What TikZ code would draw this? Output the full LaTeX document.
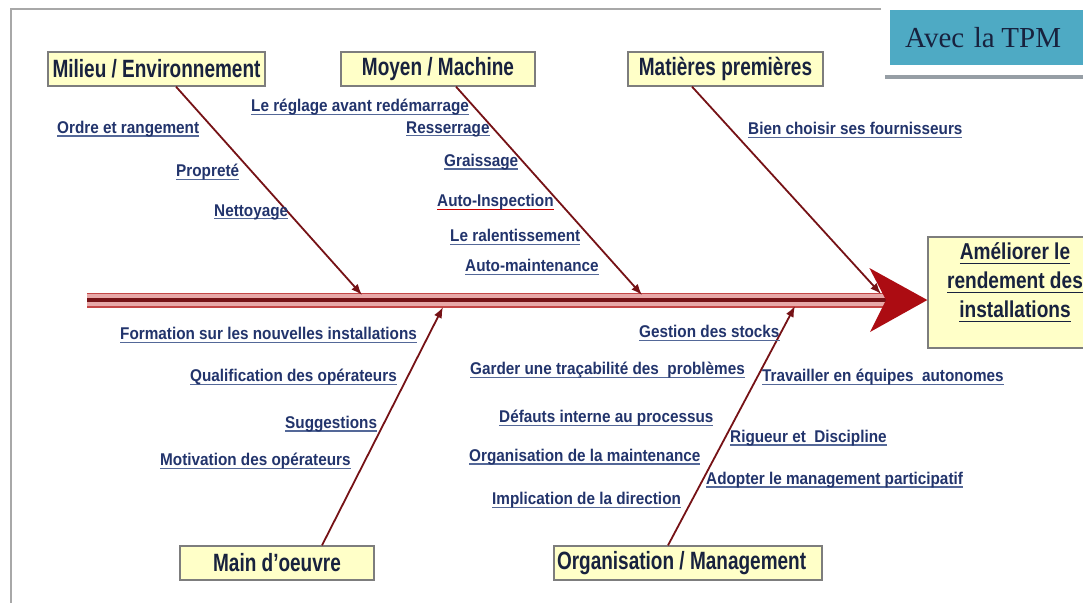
\documentclass[tikz,border=0pt]{standalone}
\usepackage{fontspec}
\setmainfont{Liberation Serif}
\newfontfamily\idfont[FakeStretch=0.9]{Liberation Sans}
\newfontfamily\catfont[FakeStretch=0.76]{Liberation Sans}
\newfontfamily\effont[FakeStretch=0.83]{Liberation Sans}
\usetikzlibrary{arrows,arrows.meta,positioning}
\definecolor{bordeaux}{RGB}{118,18,22}
\definecolor{rougevif}{RGB}{172,12,18}
\definecolor{rosepale}{RGB}{232,168,168}
\definecolor{bordepine}{RGB}{196,70,70}
\definecolor{bleu}{RGB}{34,52,108}
\definecolor{soulbleu}{RGB}{84,104,152}
\definecolor{encre}{RGB}{24,34,62}
\definecolor{jaune}{RGB}{255,255,200}
\definecolor{grisbord}{RGB}{125,125,125}
\definecolor{griscadre}{RGB}{168,168,168}
\definecolor{sarcelle}{RGB}{78,170,196}
\definecolor{ombre}{RGB}{150,158,165}
\newcommand{\souligne}[2][soulbleu]{\leavevmode\setbox0\hbox{#2}\rlap{\textcolor{#1}{\rule[-.2em]{\wd0}{.075em}}}\box0}
\tikzstyle{cause}=[
	rectangle,
	draw=grisbord,
	line width=1.3,
	fill=jaune,
	text=encre,
	font=\catfont\bfseries\fontsize{25}{28}\selectfont,
	minimum height=34,
	inner sep=0]
\tikzstyle{idee}=[
	anchor=west,
	inner sep=0,
	text=bleu,
	font=\idfont\bfseries\fontsize{17}{19}\selectfont]
\tikzstyle{effet}=[
	rectangle,
	draw=grisbord,
	line width=1.3,
	fill=jaune,
	minimum width=174,
	minimum height=111]
\tikzstyle{effettexte}=[
	align=center,
	inner sep=0,
	text=encre,
	font=\effont\bfseries\fontsize{23}{29}\selectfont]
\tikzstyle{arete}=[
	->,
	draw=bordeaux,
	line width=1.8]
\tikzstyle{epine}=[
	draw=bordeaux,
	line width=3.5,
	preaction={draw=bordepine,line width=15},
	preaction={draw=rosepale,line width=12}]

\begin{document}
\begin{tikzpicture}[x=1pt,y=-1pt,>={Latex[length=11pt,width=8.5pt]}]
	\useasboundingbox (0,0) rectangle (1083,603);
	\fill[white] (0,0) rectangle (1083,603);
	\draw[griscadre,line width=2.5] (881,9) -- (11,9) -- (11,603);
	\node[fill=sarcelle,anchor=west,minimum height=55,text width=180,inner xsep=15,align=left,text=encre,font=\fontsize{29}{34}\selectfont] (tpm) at (890,37.5) {Avec la\hspace{-3pt} TPM};
	\draw[ombre,line width=3.5] ([shift={(-5,12)}]tpm.south west) -- ([shift={(0,12)}]tpm.south east);
	\node[cause,minimum width=217]	(milieu)	at (156.5,69)	{Milieu / Environnement};
	\node[cause,minimum width=194]	(moyen)		at (438,69)		{Moyen / Machine};
	\node[cause,minimum width=195]	(matieres)	at (725.5,69)	{Matières premières};
	\node[cause,minimum width=194]	(main)		at (277,563)	{Main d’oeuvre};
	\node[cause,minimum width=268,text width=262,inner xsep=3,align=flush left]	(orga)	at (688,563)	{Organisation / Management};
	\node[effet]	(effet)	at (1015,292.5)	{};
	\node[effettexte]	(but)	at ([yshift=10]effet.center)	{\souligne[encre]{Améliorer le}\\\souligne[encre]{rendement des}\\\souligne[encre]{installations}};
	\coordinate (queue) at (87,300);
	\coordinate (cou) at (886,300);
	\draw[epine] (queue) -- (cou);
	\fill[rougevif] (effet.west |- cou) -- ++(-58,-32) -- (cou) -- ++(-16,32) -- cycle;
	\coordinate (bout1) at (362,295);
	\coordinate (bout2) at (642,295);
	\coordinate (bout3) at (881,294);
	\coordinate (bout4) at (443,307);
	\coordinate (bout5) at (795,306);
	\draw[arete] ([xshift=19.5]milieu.south) -- (bout1);
	\draw[arete] ([xshift=18]moyen.south) -- (bout2);
	\draw[arete] ([xshift=-33.5]matieres.south) -- (bout3);
	\draw[arete] ([xshift=45]main.north) -- (bout4);
	\draw[arete] ([xshift=-20]orga.north) -- (bout5);
	\node[idee]	(ordre)		at (57,129)		{\souligne{Ordre et rangement}};
	\node[idee]	(proprete)	at (176,172)	{\souligne{Propreté}};
	\node[idee]	(nettoyage)	at (214,212)	{\souligne{Nettoyage}};
	\node[idee]	(reglage)	at (251,107)	{\souligne{Le réglage avant redémarrage}};
	\node[idee]	(resserrage)	at (406,129)	{\souligne{Resserrage}};
	\node[idee]	(graissage)	at (444,162)	{\souligne{Graissage}};
	\node[idee]	(inspection)	at (437,202)	{\souligne[red!80!black]{Auto-Inspection}};
	\node[idee]	(ralenti)	at (450,237)	{\souligne{Le ralentissement}};
	\node[idee]	(automaint)	at (465,267)	{\souligne{Auto-maintenance}};
	\node[idee]	(fournisseurs)	at (748,130)	{\souligne{Bien choisir ses fournisseurs}};
	\node[idee]	(formation)	at (120,335)	{\souligne{Formation sur les nouvelles installations}};
	\node[idee]	(qualification)	at (190,377)	{\souligne{Qualification des opérateurs}};
	\node[idee]	(suggestions)	at (285,424)	{\souligne{Suggestions}};
	\node[idee]	(motivation)	at (160,461)	{\souligne{Motivation des opérateurs}};
	\node[idee]	(stocks)	at (639,333)	{\souligne{Gestion des stocks}};
	\node[idee]	(tracabilite)	at (470,370)	{\souligne{Garder une traçabilité des~ problèmes}};
	\node[idee]	(defauts)	at (499,418)	{\souligne{Défauts interne au processus}};
	\node[idee]	(maintenance)	at (469,457)	{\souligne{Organisation de la maintenance}};
	\node[idee]	(direction)	at (492,500)	{\souligne{Implication de la direction}};
	\node[idee]	(autonomes)	at (762,377)	{\souligne{Travailler en équipes~ autonomes}};
	\node[idee]	(rigueur)	at (730,438)	{\souligne{Rigueur et~ Discipline}};
	\node[idee]	(participatif)	at (706,480)	{\souligne{Adopter le management participatif}};
\end{tikzpicture}
\end{document}
